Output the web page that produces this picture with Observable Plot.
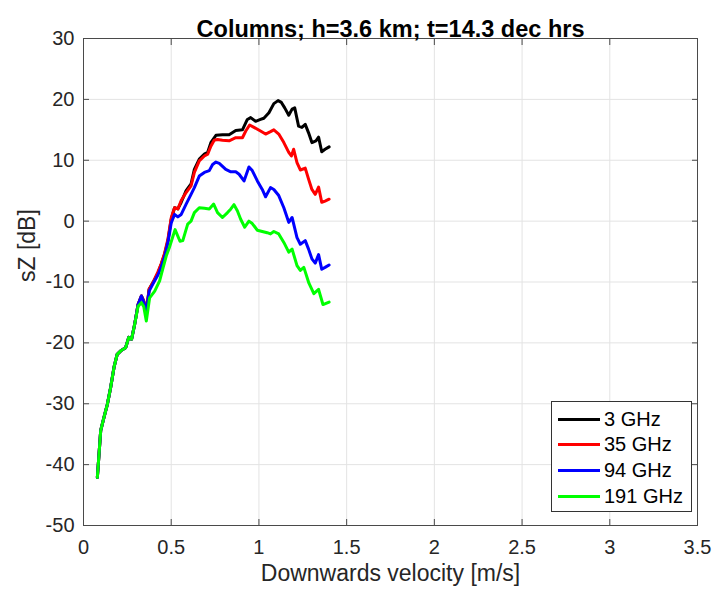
<!DOCTYPE html>
<html>
<head>
<meta charset="utf-8">
<script src="https://cdn.jsdelivr.net/npm/d3@7"></script>
<script src="https://cdn.jsdelivr.net/npm/@observablehq/plot@0.6"></script>
<style>
  html, body { margin: 0; padding: 0; background: #fff; }
  #wrap { position: relative; width: 723px; height: 591px; font-family: "Liberation Sans", Arial, Helvetica, sans-serif; }
  #legend { position: absolute; left: 551px; top: 401px; width: 139px; height: 109px; border: 1px solid #333; background: #fff; box-sizing: content-box; }
  .row { position: absolute; left: 6px; height: 24px; display: flex; align-items: center; font-size: 20px; color: #000; white-space: nowrap; }
  .sw { width: 42px; height: 3px; margin-right: 4px; }
</style>
</head>
<body>
<div id="wrap"></div>
<script>
// ---- data ----
const titleText = "Columns; h=3.6 km; t=14.3 dec hrs";
const xLabel = "Downwards velocity [m/s]";
const yLabel = "sZ [dB]";
const xTicks = [0, 0.5, 1, 1.5, 2, 2.5, 3, 3.5];
const yTicks = [-50, -40, -30, -20, -10, 0, 10, 20, 30];
const seriesNames = ["3 GHz", "35 GHz", "94 GHz", "191 GHz"];
const seriesColors = ["#000000", "#ff0000", "#0000ff", "#00ff00"];

// shared low-velocity part (all four curves coincide)
const lowV = [0.079,0.098,0.117,0.136,0.155,0.174,0.192,0.217,0.240,0.258,0.274,0.292];
const lowZ = [-42.1,-34.4,-32.2,-30.1,-27.3,-24.0,-21.9,-21.2,-20.8,-19.1,-19.4,-16.9];

const v3 = [0.311,0.330,0.343,0.358,0.374,0.396,0.425,0.443,0.462,0.481,0.500,0.519,0.538,0.557,0.585,0.613,0.632,0.660,0.689,0.708,0.726,0.755,0.792,0.830,0.868,0.906,0.934,0.953,0.981,1.009,1.028,1.057,1.085,1.109,1.128,1.147,1.170,1.189,1.204,1.226,1.245,1.264,1.283,1.302,1.325,1.340,1.358,1.377,1.400];
const z3 = [-13.7,-12.3,-13.1,-15.0,-11.2,-10.1,-8.5,-7.1,-5.5,-3.3,0.3,2.2,2.0,3.1,5.0,6.1,8.5,10.2,11.0,11.3,12.9,14.1,14.2,14.2,14.9,15.0,16.7,17.0,16.4,16.7,16.9,17.8,19.3,19.8,19.5,18.6,17.4,18.4,18.6,15.6,15.4,15.9,14.5,12.9,13.2,13.8,11.4,11.8,12.2];

const v35 = [0.311,0.330,0.343,0.358,0.374,0.396,0.425,0.443,0.462,0.481,0.500,0.519,0.538,0.557,0.585,0.613,0.632,0.660,0.689,0.708,0.726,0.745,0.764,0.792,0.830,0.868,0.906,0.925,0.947,0.972,1.009,1.038,1.066,1.085,1.113,1.142,1.170,1.185,1.198,1.217,1.236,1.264,1.283,1.302,1.321,1.340,1.358,1.377,1.400];
const z35 = [-13.7,-12.3,-13.1,-15.0,-11.2,-10.1,-8.3,-7.0,-5.3,-3.0,0.5,2.2,2.0,3.4,4.7,5.8,8.0,9.9,10.7,11.0,12.3,13.3,13.4,13.3,13.2,13.7,13.7,14.8,15.8,15.4,14.8,14.3,14.7,15.0,14.3,12.9,11.3,10.7,11.8,9.6,8.4,8.7,6.9,5.2,4.4,5.6,3.1,3.3,3.6];

const v94 = [0.311,0.330,0.343,0.358,0.374,0.396,0.425,0.443,0.462,0.481,0.500,0.519,0.538,0.557,0.585,0.613,0.632,0.660,0.689,0.717,0.736,0.755,0.774,0.811,0.840,0.868,0.887,0.915,0.943,0.962,0.991,1.019,1.038,1.066,1.085,1.113,1.142,1.170,1.189,1.217,1.236,1.264,1.283,1.302,1.321,1.340,1.358,1.377,1.400];
const z94 = [-13.7,-12.3,-13.3,-15.0,-11.5,-10.3,-8.8,-7.5,-5.9,-3.5,-0.3,1.1,0.7,1.1,2.8,4.4,5.5,7.4,8.0,8.3,9.3,9.7,9.5,8.5,8.1,8.1,7.7,6.6,8.9,8.3,6.6,5.2,4.0,5.5,5.2,4.2,2.2,-0.2,0.6,-2.7,-3.8,-3.2,-4.6,-6.2,-6.9,-5.5,-7.9,-7.6,-7.2];

const v191 = [0.311,0.330,0.343,0.358,0.377,0.406,0.434,0.453,0.472,0.490,0.522,0.550,0.566,0.594,0.613,0.632,0.660,0.689,0.717,0.742,0.764,0.792,0.821,0.840,0.858,0.877,0.896,0.919,0.943,0.962,0.991,1.019,1.047,1.066,1.085,1.113,1.142,1.170,1.189,1.217,1.236,1.256,1.285,1.313,1.340,1.365,1.400];
const z191 = [-14.0,-13.4,-14.0,-16.4,-12.6,-11.5,-9.8,-7.7,-5.7,-4.3,-1.4,-3.3,-3.2,-0.5,0.0,1.4,2.2,2.1,2.0,2.8,1.4,0.6,1.4,2.0,2.7,1.7,0.3,-1.0,0.0,-0.4,-1.5,-1.7,-1.9,-2.1,-1.7,-2.1,-3.5,-5.1,-4.6,-7.3,-8.1,-7.6,-10.2,-11.9,-11.2,-13.7,-13.3];

// ---- build table ----
const seriesV = [v3, v35, v94, v191];
const seriesZ = [z3, z35, z94, z191];
const rows = [];
seriesNames.forEach((name, i) => {
  lowV.forEach((v, j) => rows.push({series: name, v, z: lowZ[j]}));
  seriesV[i].forEach((v, j) => rows.push({series: name, v, z: seriesZ[i][j]}));
});

const font = '"Liberation Sans", Arial, Helvetica, sans-serif';
const axisColor = "#4a4a4a";

const chart = Plot.plot({
  width: 723,
  height: 591,
  marginLeft: 83,
  marginRight: 26,
  marginTop: 38,
  marginBottom: 66,
  style: {fontFamily: font, fontSize: "20px", color: "#262626", background: "#fff", overflow: "visible"},
  x: {domain: [0, 3.5]},
  y: {domain: [-50, 30]},
  color: {domain: seriesNames, range: seriesColors},
  marks: [
    Plot.gridX(xTicks, {stroke: "#e3e3e3", strokeOpacity: 1, strokeWidth: 1}),
    Plot.gridY(yTicks, {stroke: "#e3e3e3", strokeOpacity: 1, strokeWidth: 1}),
    Plot.frame({stroke: axisColor, strokeWidth: 1}),
    // inward ticks on all four sides
    Plot.axisX(xTicks, {anchor: "bottom", tickSize: -6, tickFormat: () => "", label: null, stroke: axisColor}),
    Plot.axisX(xTicks, {anchor: "top", tickSize: -6, tickFormat: () => "", label: null, stroke: axisColor}),
    Plot.axisY(yTicks, {anchor: "left", tickSize: -6, tickFormat: () => "", label: null, stroke: axisColor}),
    Plot.axisY(yTicks, {anchor: "right", tickSize: -6, tickFormat: () => "", label: null, stroke: axisColor}),
    // tick labels
    Plot.axisX(xTicks, {anchor: "bottom", tickSize: 0, tickPadding: 14, tickFormat: d => String(d), label: null, fontSize: 20, fill: "#262626"}),
    Plot.axisY(yTicks, {anchor: "left", tickSize: 0, tickPadding: 9, tickFormat: d => String(d), label: null, fontSize: 20, fill: "#262626"}),
    // data
    Plot.line(rows, {x: "v", y: "z", z: "series", stroke: "series", strokeWidth: 3, strokeLinejoin: "round", strokeLinecap: "round"}),
    // title and axis labels
    Plot.text([titleText], {frameAnchor: "top", dy: -18, text: d => d, fontSize: 23.5, fontWeight: "bold", fill: "#000"}),
    Plot.text([xLabel], {frameAnchor: "bottom", dy: 55, text: d => d, fontSize: 23, fill: "#262626"}),
    Plot.text([yLabel], {frameAnchor: "left", dx: -56, rotate: -90, text: d => d, fontSize: 23, fill: "#262626"})
  ]
});

const wrap = document.getElementById("wrap");
wrap.appendChild(chart);

// legend
const legend = document.createElement("div");
legend.id = "legend";
seriesNames.forEach((name, i) => {
  const row = document.createElement("div");
  row.className = "row";
  row.style.top = (5 + i * 25.8) + "px";
  const sw = document.createElement("span");
  sw.className = "sw";
  sw.style.background = seriesColors[i];
  const t = document.createElement("span");
  t.textContent = name;
  row.appendChild(sw);
  row.appendChild(t);
  legend.appendChild(row);
});
wrap.appendChild(legend);
</script>
</body>
</html>
